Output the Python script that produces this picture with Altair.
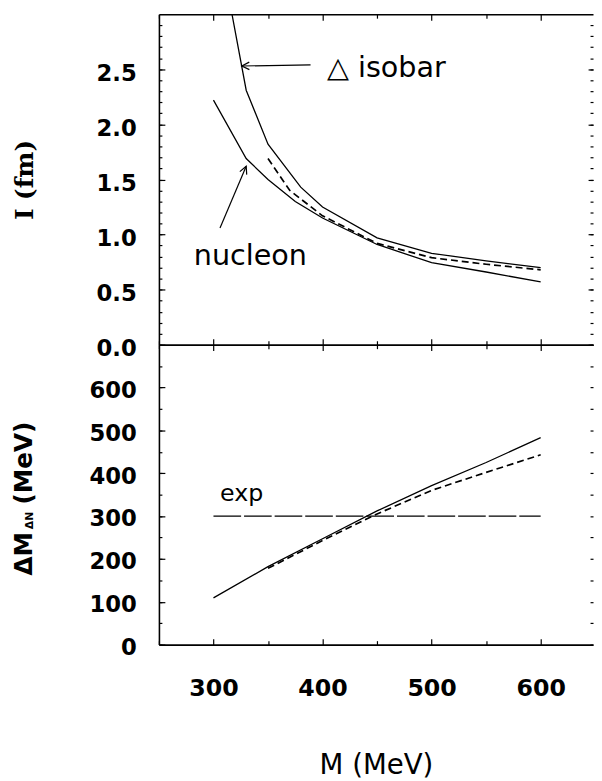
import math
import altair as alt
import pandas as pd

# ---------------- data ----------------
# upper panel: I (fm) vs M (MeV)
NUC_M = [300, 330, 350, 375, 400, 450, 500, 550, 600]
NUC_I = [2.22, 1.69, 1.50, 1.30, 1.15, 0.91, 0.745, 0.66, 0.57]

DEL_M = [300, 330, 350, 380, 400, 450, 500, 550, 600]
DEL_I = [3.90, 2.31, 1.82, 1.43, 1.25, 0.97, 0.83, 0.76, 0.70]

DSH_M = [350, 370, 400, 450, 500, 550, 600]
DSH_I = [1.69, 1.40, 1.17, 0.92, 0.79, 0.73, 0.68]

# lower panel: Delta M_{Delta N} (MeV) vs M (MeV)
DM_M = [300, 350, 400, 450, 500, 550, 600]
DM_SOLID = [109, 182, 247, 312, 371, 425, 483]
DMD_M = [350, 400, 450, 500, 550, 600]
DM_DASH = [178, 243, 305, 360, 402, 443]
EXP_M = [300, 600]
EXP_DM = [300, 300]

# ticks
X_MAJOR = [300, 400, 500, 600]
X_MINOR = [250, 350, 450, 550]
I_MAJOR = [0.0, 0.5, 1.0, 1.5, 2.0, 2.5]
I_MINOR = [k / 10 for k in range(0, 30)]
DM_MAJOR = [0, 100, 200, 300, 400, 500, 600]
DM_MINOR = list(range(0, 700, 50))

# annotations (data coordinates)
TXT = ["nucleon", "\u25b3 isobar"]
TXT_M = [282, 404]
TXT_I = [0.72, 2.43]
ARR_TAIL_M = [306, 389]
ARR_TAIL_I = [1.06, 2.54]
ARR_HEAD_M = [330, 326]
ARR_HEAD_I = [1.62, 2.53]
EXP_TXT = ["exp"]
EXP_TXT_M = [306]
EXP_TXT_DM = [335]

# ---------------- layout / style ----------------
W, H1, H2 = 440, 335, 304
X_DOM = [250, 648]
I_DOM = [0, 3]
DM_DOM = [0, 700]
BLACK = "black"
SANS = "DejaVu Sans"

xs = alt.Scale(domain=X_DOM, nice=False, zero=False)
ys_top = alt.Scale(domain=I_DOM, nice=False, zero=False)
ys_bot = alt.Scale(domain=DM_DOM, nice=False, zero=False)


def tick_axis(orient, values, size, **kw):
    base = dict(orient=orient, values=values, offset=-size, tickSize=size,
                tickColor=BLACK, tickWidth=1.2, domain=False, labels=False,
                grid=False, title=None)
    base.update(kw)
    return alt.Axis(**base)


def domain_axis(orient, **kw):
    base = dict(orient=orient, domain=True, domainColor=BLACK, domainWidth=1.6,
                ticks=False, labels=False, grid=False, title=None)
    base.update(kw)
    return alt.Axis(**base)


def guide(df, yfield, yscale, xaxis, yaxis):
    return alt.Chart(df).mark_point(opacity=0, size=1).encode(
        x=alt.X("M:Q", scale=xs, axis=xaxis),
        y=alt.Y(f"{yfield}:Q", scale=yscale, axis=yaxis),
    )


def curve(df, yfield, yscale, dash=None, width=1.3):
    kw = dict(color=BLACK, strokeWidth=width, clip=True, strokeCap="butt")
    if dash:
        kw["strokeDash"] = dash
    return alt.Chart(df).mark_line(**kw).encode(
        x=alt.X("M:Q", scale=xs, axis=None),
        y=alt.Y(f"{yfield}:Q", scale=yscale, axis=None),
    )


LBL = dict(labelFont=SANS, labelFontWeight="bold", labelColor=BLACK)

# ---------------- upper panel ----------------
nuc = pd.DataFrame({"M": NUC_M, "I": NUC_I})
dlt = pd.DataFrame({"M": DEL_M, "I": DEL_I})
dsh = pd.DataFrame({"M": DSH_M, "I": DSH_I})

kx = W / (X_DOM[1] - X_DOM[0])
ky = H1 / (I_DOM[1] - I_DOM[0])
angles = []
for tm, ti, hm, hi in zip(ARR_TAIL_M, ARR_TAIL_I, ARR_HEAD_M, ARR_HEAD_I):
    dx = (hm - tm) * kx
    dy = -(hi - ti) * ky
    angles.append(math.degrees(math.atan2(dy, dx)) % 360)

arr = pd.DataFrame({"M": ARR_TAIL_M, "I": ARR_TAIL_I, "M2": ARR_HEAD_M, "I2": ARR_HEAD_I})
heads = pd.DataFrame({"M": ARR_HEAD_M, "I": ARR_HEAD_I, "ang": angles})
txt = pd.DataFrame({"M": TXT_M, "I": TXT_I, "label": TXT})

top_layers = [
    guide(nuc, "I", ys_top,
          tick_axis("bottom", X_MAJOR, 6),
          tick_axis("left", I_MAJOR, 6, labels=True, format=".1f", labelFontSize=23,
                    labelPadding=23, labelOffset=4, **LBL)),
    guide(nuc, "I", ys_top,
          tick_axis("bottom", X_MINOR, 4),
          tick_axis("left", I_MINOR, 3)),
    guide(nuc, "I", ys_top,
          domain_axis("bottom"),
          domain_axis("left", title="I (fm)", titleFont="DejaVu Serif", titleFontSize=25,
                      titleFontWeight="bold", titleColor=BLACK, titleX=-136, titleY=H1 / 2,
                      titleAngle=270, titleAlign="center", titleBaseline="middle")),
    guide(nuc, "I", ys_top,
          tick_axis("top", X_MAJOR, 6),
          tick_axis("right", I_MAJOR, 5)),
    guide(nuc, "I", ys_top,
          tick_axis("top", X_MINOR, 4),
          tick_axis("right", I_MINOR, 3)),
    guide(nuc, "I", ys_top,
          domain_axis("top"),
          None),
    curve(nuc, "I", ys_top),
    curve(dlt, "I", ys_top),
    curve(dsh, "I", ys_top, dash=[7, 4], width=1.7),
    alt.Chart(arr).mark_rule(color=BLACK, strokeWidth=1.2).encode(
        x=alt.X("M:Q", scale=xs, axis=None), y=alt.Y("I:Q", scale=ys_top, axis=None),
        x2="M2:Q", y2="I2:Q"),
    alt.Chart(heads).mark_point(shape="M-1,-0.5L0,0L-1,0.5", filled=False, size=230,
                                color=BLACK, strokeWidth=1.2, opacity=1).encode(
        x=alt.X("M:Q", scale=xs, axis=None), y=alt.Y("I:Q", scale=ys_top, axis=None),
        angle=alt.Angle("ang:Q", scale=None)),
    alt.Chart(txt).mark_text(font=SANS, fontSize=29, align="left", baseline="alphabetic",
                             color=BLACK).encode(
        x=alt.X("M:Q", scale=xs, axis=None), y=alt.Y("I:Q", scale=ys_top, axis=None),
        text="label:N"),
]
top = alt.layer(*top_layers).resolve_axis(x="independent", y="independent").properties(
    width=W, height=H1)

# ---------------- lower panel ----------------
dms = pd.DataFrame({"M": DM_M, "DM": DM_SOLID})
dmd = pd.DataFrame({"M": DMD_M, "DM": DM_DASH})
exp = pd.DataFrame({"M": EXP_M, "DM": EXP_DM})
exptxt = pd.DataFrame({"M": EXP_TXT_M, "DM": EXP_TXT_DM, "label": EXP_TXT})
one = pd.DataFrame({"a": [0]})


def ytitle_piece(text, px, py, size):
    return alt.Chart(one).mark_text(text=text, angle=270, align="left", baseline="middle",
                                    font=SANS, fontSize=size, fontWeight="bold",
                                    color=BLACK).encode(x=alt.value(px), y=alt.value(py))


bot_layers = [
    guide(dms, "DM", ys_bot,
          tick_axis("bottom", X_MAJOR, 6, labels=True, format="d", labelFontSize=24,
                    labelPadding=33, labelFlush=False, **LBL),
          tick_axis("left", DM_MAJOR, 6, labels=True, format="d", labelFontSize=23,
                    labelPadding=23, labelOffset=3, **LBL)),
    guide(dms, "DM", ys_bot,
          tick_axis("bottom", X_MINOR, 4),
          tick_axis("left", DM_MINOR, 3)),
    guide(dms, "DM", ys_bot,
          domain_axis("bottom", title="M (MeV)", titleFont=SANS, titleFontSize=28,
                      titleFontWeight="normal", titleColor=BLACK, titleY=123,
                      titleBaseline="middle"),
          domain_axis("left")),
    guide(dms, "DM", ys_bot,
          tick_axis("top", X_MAJOR, 6),
          tick_axis("right", DM_MINOR, 3)),
    guide(dms, "DM", ys_bot,
          tick_axis("top", X_MINOR, 4),
          None),
    guide(dms, "DM", ys_bot,
          domain_axis("top"),
          None),
    curve(exp, "DM", ys_bot, dash=[28, 3], width=1.2),
    curve(dms, "DM", ys_bot),
    curve(dmd, "DM", ys_bot, dash=[7, 4], width=1.7),
    alt.Chart(exptxt).mark_text(font=SANS, fontSize=24, align="left", baseline="alphabetic",
                                color=BLACK).encode(
        x=alt.X("M:Q", scale=xs, axis=None), y=alt.Y("DM:Q", scale=ys_bot, axis=None),
        text="label:N"),
    ytitle_piece("\u0394M", -137, 234, 25),
    ytitle_piece("\u0394N", -131, 187, 11),
    ytitle_piece("(MeV)", -137, 162, 25),
]
bot = alt.layer(*bot_layers).resolve_axis(x="independent", y="independent").properties(
    width=W, height=H2)

chart = alt.vconcat(top, bot, spacing=0, bounds="flush").properties(
    padding={"left": 4, "top": 0, "right": 0, "bottom": 0}
).configure_view(stroke=None).configure_axis(grid=False)

chart.save("out.html", embed_options={"renderer": "svg", "actions": False})
